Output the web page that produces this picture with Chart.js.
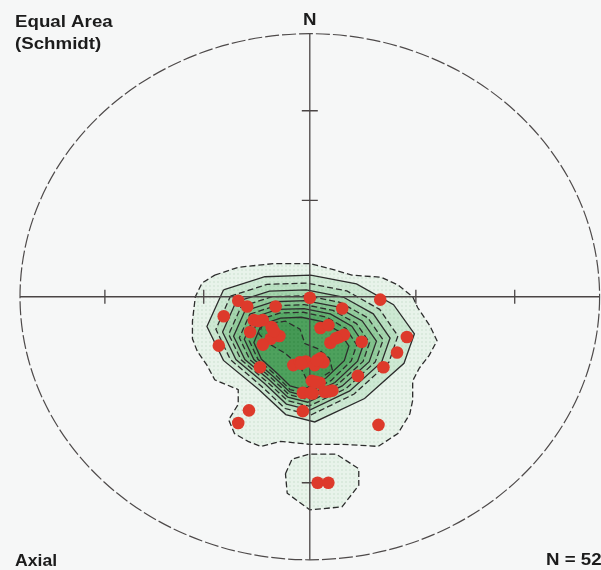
<!DOCTYPE html>
<html>
<head>
<meta charset="utf-8">
<script src="https://cdn.jsdelivr.net/npm/chart.js@4.4.1/dist/chart.umd.min.js"></script>
<style>
  html, body { margin: 0; padding: 0; background: #f6f7f7; }
  canvas { display: block; }
</style>
</head>
<body>
<canvas id="net" width="601" height="570"></canvas>
<script>
// Poles (axial data) in equal-area net units, primitive radius = 100
const poleX = [-24.7, -21.6, -29.7, -11.8, 0.0, 24.3, 11.2, -19.3, -16.2, -13.2,
               -20.6, -10.5, -13.5, -16.2, -31.4, 3.7, 6.4, 10.1, 11.8, 7.1,
               17.9, 33.5, 30.1, 25.4, 16.6, -17.2, -5.7, -3.4, -1.4, 1.7,
               3.7, 4.7, 0.7, 3.4, -2.4, 1.0, 5.1, 7.8, -2.4, -21.0,
               -24.7, 23.7, 2.7, 6.4, -12.5, -3.0, 2.5, 2.0, 6.5, -17.8,
               9.0, 0.3];
const poleY = [-1.5, -3.7, -7.4, -3.7, -0.4, -1.1, -4.5, -8.9, -8.9, -11.5,
               -13.4, -14.9, -16.0, -18.2, -18.6, -11.9, -10.8, -15.3, -14.5, -17.5,
               -17.1, -15.3, -21.2, -26.8, -30.1, -26.8, -26.0, -24.9, -24.6, -26.0,
               -23.4, -24.9, -32.0, -32.7, -36.5, -36.8, -36.1, -35.7, -43.5, -43.2,
               -48.0, -48.7, -70.7, -70.7, -13.0, -25.5, -24.2, -32.3, -36.0, -9.2,
               -15.8, -36.6];

// Density contour rings, outermost first (net units)
const contour1 = [[-32.8,8.2],[-24.7,11.2],[-12.5,12.6],[0,12.6],[9.1,10.0],[14.5,8.2],[24.7,7.4],[30.4,4.5],
  [35.5,0],[37.2,-4.1],[41.5,-11.2],[43.9,-16.7],[41.2,-22.3],[37.8,-27.1],[35.5,-32.0],[35.5,-39.4],
  [34.5,-44.6],[30.4,-52.0],[23.6,-56.9],[11.1,-56.1],[0,-56.1],[-10.1,-55.0],[-16.9,-56.9],[-21.3,-55.0],
  [-26.0,-52.0],[-28.0,-46.8],[-24.7,-40.9],[-24.7,-35.3],[-32.8,-31.6],[-35.5,-26.0],[-38.8,-20.8],
  [-40.5,-16.0],[-40.5,-9.3],[-39.5,0],[-37.2,5.2]];
const contour2 = [[-29.8,2.6],[-15.5,7.6],[0.3,8.2],[16.1,4.9],[28.9,-3.0],[36.1,-14.1],[32.5,-25.3],
  [18.9,-38.7],[1.7,-47.6],[-8.3,-44.8],[-17.6,-35.3],[-29.8,-24.2],[-35.5,-11.3]];
const contour3 = [[-27.4,0.2],[-14.8,4.7],[-1.0,5.2],[12.8,2.2],[24.1,-4.8],[30.4,-14.9],[27.3,-24.9],
  [15.3,-37.0],[0.3,-45.0],[-8.5,-42.5],[-16.7,-34.0],[-27.4,-23.9],[-32.4,-12.4]];
const contour4 = [[-25.5,-2.0],[-13.9,2.1],[-1.2,2.6],[11.5,-0.1],[21.9,-6.5],[27.7,-15.7],[24.8,-24.8],
  [13.8,-35.8],[0.0,-43.1],[-8.1,-40.8],[-15.6,-33.0],[-25.5,-23.9],[-30.1,-13.4]];
const contour5 = [[-23.7,-3.8],[-13.1,0.0],[-1.3,0.4],[10.4,-2.1],[20.0,-8.0],[25.3,-16.4],[22.6,-24.8],
  [12.5,-34.9],[-0.3,-41.6],[-7.7,-39.5],[-14.7,-32.4],[-23.7,-24.0],[-28.0,-14.3]];
const contour6 = [[-22.4,-5.4],[-12.5,-1.9],[-1.6,-1.5],[9.2,-3.8],[18.1,-9.2],[23.0,-16.9],[20.5,-24.7],
  [11.2,-33.9],[-0.7,-40.1],[-7.6,-38.2],[-14.0,-31.6],[-22.4,-23.9],[-26.3,-15.0]];
const contour7 = [[-20.7,-6.6],[-11.7,-3.4],[-1.8,-3.0],[8.0,-5.2],[16.1,-10.2],[20.6,-17.4],[18.4,-24.6],
  [9.8,-33.2],[-1.0,-39.0],[-7.2,-37.2],[-13.1,-31.1],[-20.7,-23.9],[-24.3,-15.6]];
const contour8 = [[-19.3,-7.8],[-11.1,-4.8],[-2.0,-4.5],[7.1,-6.5],[14.5,-11.2],[18.6,-17.9],[16.5,-24.5],
  [8.7,-32.6],[-1.2,-37.9],[-6.9,-36.2],[-12.3,-30.6],[-19.3,-23.9],[-22.6,-16.2]];
const contour9 = [[-17.9,-9.0],[-10.5,-6.2],[-2.3,-5.9],[5.8,-7.8],[12.5,-12.1],[16.2,-18.3],[14.3,-24.4],
  [7.3,-31.9],[-1.6,-36.8],[-6.8,-35.3],[-11.6,-30.0],[-17.9,-23.8],[-20.9,-16.7]];
const contour10 = [[-16.7,-10.6],[-10.1,-8.1],[-2.9,-7.8],[4.3,-9.5],[10.2,-13.3],[13.5,-18.8],[11.9,-24.3],
  [5.6,-30.9],[-2.2,-35.3],[-6.8,-33.9],[-11.1,-29.3],[-16.7,-23.8],[-19.3,-17.4]];
const contour11 = [[-16.2,-10.4],[-8.4,-9.3],[-3.4,-12.3],[-1.7,-17.8],[2.7,-19.7],[6.8,-23.4],[7.8,-27.9],
  [3.4,-31.2],[-0.7,-32.3],[-3.4,-26.4],[-8.4,-21.6],[-14.2,-17.8],[-17.6,-14.1]];
const contourSouth = [[-8.4,-67.3],[-6.1,-61.7],[0,-59.8],[9.1,-59.8],[16.9,-65.4],[16.9,-71.7],[11.1,-79.9],
  [0,-81.0],[-7.8,-74.7]];

// Graduation marks on the N-S and E-W diameters (degrees from centre)
const tickAngles = [30, 60];

const titleLines = ['Equal Area', '(Schmidt)'];
const northLabel = 'N';
const dataKind = 'Axial';

const rings = [contour1, contour2, contour3, contour4, contour5, contour6,
               contour7, contour8, contour9, contour10, contour11];
const ringFills = ['#e8f3ea', '#cde8d3', '#b9dfc1', '#a5d5ae', '#93cc9d', '#82c28d',
                   '#72b97f', '#64b172', '#58a967', '#4ea15d', '#459955'];
const ringDots  = ['#c8dfcc', '#b3d9bb', '#a1d0aa', '#8ec599', '#7dbb89', '#6db17b',
                   '#5fa86e', '#52a062', '#469857', '#3d904e', '#358846'];

function stipple(base, dot) {
  const c = document.createElement('canvas');
  c.width = 4; c.height = 4;
  const g = c.getContext('2d');
  g.fillStyle = base; g.fillRect(0, 0, 4, 4);
  g.fillStyle = dot; g.beginPath(); g.arc(2, 2, 0.8, 0, Math.PI * 2); g.fill();
  return g.createPattern(c, 'repeat');
}

const toPoints = ring => ring.concat([ring[0]]).map(([x, y]) => ({ x, y }));

const datasets = [{
  label: 'poles',
  data: poleX.map((x, i) => ({ x, y: poleY[i] })),
  showLine: false,
  pointRadius: 6.3,
  pointHoverRadius: 6.3,
  pointBackgroundColor: '#dd3a2b',
  pointBorderWidth: 0,
  order: 0
}];
rings.forEach((ring, i) => {
  datasets.push({
    label: 'level ' + (i + 1),
    data: toPoints(ring),
    fill: 'shape',
    backgroundColor: stipple(ringFills[i], ringDots[i]),
    borderColor: '#2d2d2d',
    borderWidth: 1.3,
    borderDash: i % 2 === 0 ? [6, 3] : [],
    pointRadius: 0,
    pointHoverRadius: 0,
    tension: 0,
    order: 20 - i
  });
});
datasets.push({
  label: 'south',
  data: toPoints(contourSouth),
  fill: 'shape',
  backgroundColor: stipple(ringFills[0], ringDots[0]),
  borderColor: '#2d2d2d',
  borderWidth: 1.3,
  borderDash: [6, 3],
  pointRadius: 0,
  pointHoverRadius: 0,
  tension: 0,
  order: 30
});

// Primitive circle, diameters and graduation ticks, under the poles
const netFrame = {
  id: 'netFrame',
  beforeDatasetDraw(chart, args) {
    if (args.index !== 0) return;
    const { ctx, scales: { x, y } } = chart;
    const cx = x.getPixelForValue(0), cy = y.getPixelForValue(0);
    const rx = x.getPixelForValue(100) - cx, ry = cy - y.getPixelForValue(100);
    ctx.save();
    ctx.strokeStyle = '#4a4545';
    ctx.lineWidth = 1.3;
    ctx.beginPath();
    ctx.moveTo(x.getPixelForValue(-100), cy); ctx.lineTo(x.getPixelForValue(100), cy);
    ctx.moveTo(cx, y.getPixelForValue(100)); ctx.lineTo(cx, y.getPixelForValue(-100));
    tickAngles.forEach(a => {
      const r = 100 * Math.SQRT2 * Math.sin(a * Math.PI / 360);
      [-r, r].forEach(v => {
        const px = x.getPixelForValue(v), py = y.getPixelForValue(v);
        ctx.moveTo(px, cy - 7); ctx.lineTo(px, cy + 7);
        ctx.moveTo(cx - 8, py); ctx.lineTo(cx + 8, py);
      });
    });
    ctx.stroke();
    ctx.strokeStyle = '#4e4a4a';
    ctx.lineWidth = 1.2;
    ctx.setLineDash([14, 3]);
    ctx.beginPath();
    ctx.ellipse(cx, cy, rx, ry, 0, 0, Math.PI * 2);
    ctx.stroke();
    ctx.restore();
  }
};

// Net annotations
const netText = {
  id: 'netText',
  afterDraw(chart) {
    const { ctx, scales: { x } } = chart;
    const put = (text, px, py, size, align) => {
      ctx.save();
      ctx.translate(px, py);
      ctx.scale(1.1, 1);
      ctx.font = 'bold ' + size + 'px "Liberation Sans", Arial, sans-serif';
      ctx.fillStyle = '#1c1c1c';
      ctx.textAlign = align;
      ctx.textBaseline = 'alphabetic';
      ctx.fillText(text, 0, 0);
      ctx.restore();
    };
    put(titleLines[0], 15, 27, 17, 'left');
    put(titleLines[1], 15, 49, 17, 'left');
    put(northLabel, x.getPixelForValue(0), 25, 17, 'center');
    put(dataKind, 15, 566, 16, 'left');
    put('N = ' + poleX.length, 546, 565, 17, 'left');
  }
};

new Chart(document.getElementById('net'), {
  type: 'line',
  data: { datasets },
  options: {
    responsive: false,
    animation: false,
    layout: { padding: 0 },
    plugins: { legend: { display: false }, tooltip: { enabled: false } },
    events: [],
    scales: {
      x: { type: 'linear', display: false, min: -104.73, max: 98.31 },
      y: { type: 'linear', display: false, min: -101.49, max: 110.41 }
    }
  },
  plugins: [netFrame, netText]
});
</script>
</body>
</html>
